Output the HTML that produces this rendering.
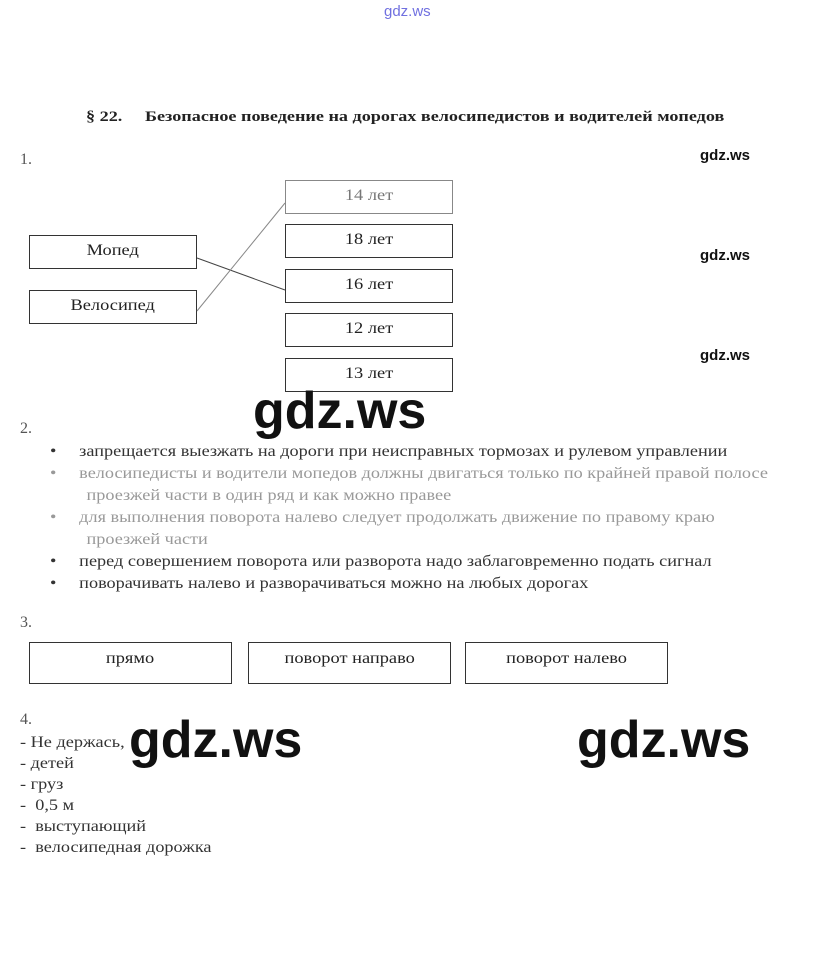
<!DOCTYPE html>
<html><head><meta charset="utf-8"><style>
body{margin:0;width:823px;height:959px;background:#fff;position:relative;font-family:"Liberation Serif",serif;color:#222;overflow:hidden}
.a{position:absolute;white-space:nowrap}
.s{transform:scaleX(1.14);transform-origin:0 0}
.b{position:absolute;border:1px solid #333;box-sizing:border-box;text-align:center;font-size:16px}
.b span{display:inline-block;transform:scaleX(1.15)}
.w{position:absolute;font-family:"Liberation Sans",sans-serif;font-weight:bold;color:#111}
.t{font-size:16px}
</style></head><body>
<div class="a" style="left:384px;top:3px;font-family:'Liberation Sans',sans-serif;font-size:15px;color:#7070e0">gdz.ws</div>
<div class="a" style="left:86px;top:109px;font-size:15px;font-weight:bold;transform:scaleX(1.21);transform-origin:0 0">§ 22.&nbsp;&nbsp;&nbsp;&nbsp; Безопасное поведение на дорогах велосипедистов и водителей мопедов</div>
<div class="a t" style="left:20px;top:151px;color:#555">1.</div>
<div class="w" style="left:700px;top:147px;font-size:15px">gdz.ws</div>
<div class="w" style="left:700px;top:247px;font-size:15px">gdz.ws</div>
<div class="w" style="left:700px;top:347px;font-size:15px">gdz.ws</div>
<div class="b" style="left:29px;top:235px;width:168px;height:34px;line-height:30px"><span>Мопед</span></div>
<div class="b" style="left:29px;top:290px;width:168px;height:34px;line-height:30px"><span>Велосипед</span></div>
<div class="b" style="left:285px;top:180px;width:168px;height:34px;line-height:30px;border-color:#888;color:#777"><span>14 лет</span></div>
<div class="b" style="left:285px;top:224px;width:168px;height:34px;line-height:30px"><span>18 лет</span></div>
<div class="b" style="left:285px;top:269px;width:168px;height:34px;line-height:30px"><span>16 лет</span></div>
<div class="b" style="left:285px;top:313px;width:168px;height:34px;line-height:30px"><span>12 лет</span></div>
<div class="b" style="left:285px;top:358px;width:168px;height:34px;line-height:30px"><span>13 лет</span></div>
<svg class="a" style="left:0;top:0" width="823" height="959"><line x1="197" y1="258" x2="285" y2="290" stroke="#444"/><line x1="197" y1="311" x2="285" y2="203" stroke="#888"/></svg>
<div class="w" style="left:253px;top:381px;font-size:52px">gdz.ws</div>
<div class="a t" style="left:20px;top:420px;color:#555">2.</div>
<div class="a t s" style="left:50px;top:441px;line-height:22px;color:#333">
•&nbsp;&nbsp;&nbsp;&nbsp; запрещается выезжать на дороги при неисправных тормозах и рулевом управлении<br>
<span style="color:#999">•&nbsp;&nbsp;&nbsp;&nbsp; велосипедисты и водители мопедов должны двигаться только по крайней правой полосе<br>
&nbsp;&nbsp;&nbsp;&nbsp;&nbsp;&nbsp;&nbsp; проезжей части в один ряд и как можно правее<br>
•&nbsp;&nbsp;&nbsp;&nbsp; для выполнения поворота налево следует продолжать движение по правому краю<br>
&nbsp;&nbsp;&nbsp;&nbsp;&nbsp;&nbsp;&nbsp; проезжей части</span><br>
•&nbsp;&nbsp;&nbsp;&nbsp; перед совершением поворота или разворота надо заблаговременно подать сигнал<br>
•&nbsp;&nbsp;&nbsp;&nbsp; поворачивать налево и разворачиваться можно на любых дорогах</div>
<div class="a t" style="left:20px;top:614px;color:#555">3.</div>
<div class="b" style="left:29px;top:642px;width:203px;height:42px;line-height:32px"><span>прямо</span></div>
<div class="b" style="left:248px;top:642px;width:203px;height:42px;line-height:32px"><span>поворот направо</span></div>
<div class="b" style="left:465px;top:642px;width:203px;height:42px;line-height:32px"><span>поворот налево</span></div>
<div class="a t" style="left:20px;top:711px;color:#555">4.</div>
<div class="a t s" style="left:20px;top:732px;line-height:21px;color:#333">- Не держась,<br>- детей<br>- груз<br>-&nbsp; 0,5 м<br>-&nbsp; выступающий<br>-&nbsp; велосипедная дорожка</div>
<div class="w" style="left:129px;top:710px;font-size:52px">gdz.ws</div>
<div class="w" style="left:577px;top:710px;font-size:52px">gdz.ws</div>
</body></html>
